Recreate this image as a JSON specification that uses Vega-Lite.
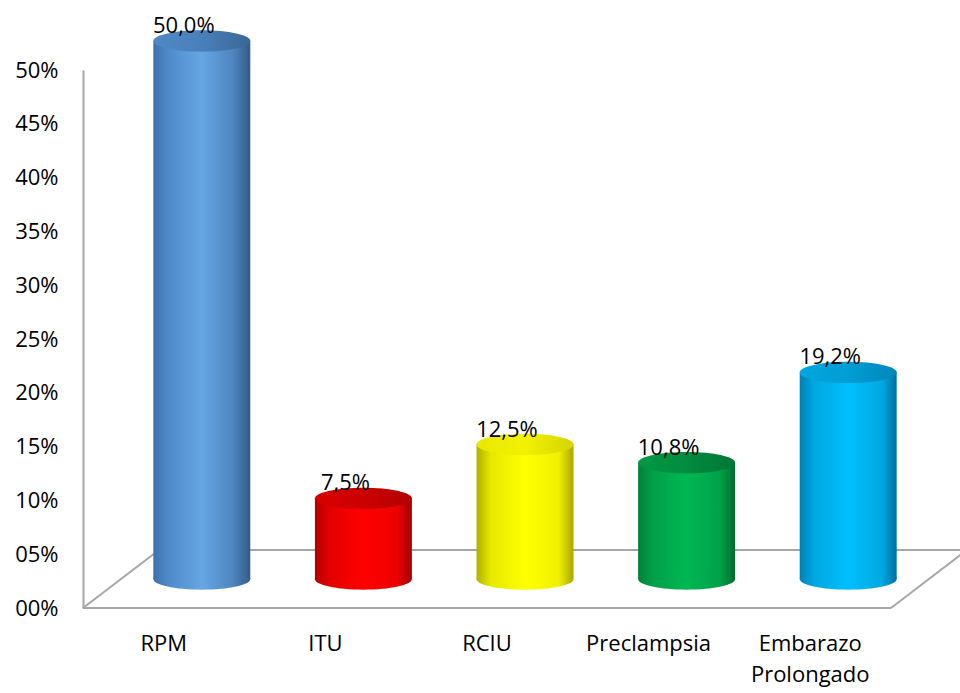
{
  "$schema": "https://vega.github.io/schema/vega-lite/v6.json",
  "width": 808,
  "height": 538,
  "autosize": "none",
  "padding": {"left": 83, "top": 70, "right": 69, "bottom": 85},
  "background": "white",
  "config": {
    "view": {"stroke": null},
    "font": "Open Sans",
    "locale": {"number": {"decimal": ",", "thousands": ".", "grouping": [3], "currency": ["", " €"]}}
  },
  "data": {"values": [
    {"cat": "RPM", "value": 0.5},
    {"cat": "ITU", "value": 0.075},
    {"cat": "RCIU", "value": 0.125},
    {"cat": "Preclampsia", "value": 0.108},
    {"cat": "Embarazo Prolongado", "value": 0.192}
  ]},
  "resolve": {"scale": {"x": "independent"}},
  "layer": [
    {
      "data": {"values": [{}]},
      "layer": [
        {
          "mark": {"type": "rule", "color": "#A6A6A6", "strokeWidth": 2},
          "encoding": {
            "x": {"datum": 0, "type": "quantitative", "scale": {"domain": [0, 1], "nice": false, "zero": false}, "axis": null},
            "x2": {"datum": 1},
            "y": {"datum": 0, "type": "quantitative"}
          }
        },
        {
          "mark": {"type": "rule", "color": "#A6A6A6", "strokeWidth": 2, "xOffset": 76, "x2Offset": 76, "yOffset": -58},
          "encoding": {
            "x": {"datum": 0, "type": "quantitative", "scale": {"domain": [0, 1], "nice": false, "zero": false}, "axis": null},
            "x2": {"datum": 1},
            "y": {"datum": 0, "type": "quantitative"}
          }
        },
        {
          "mark": {"type": "rule", "color": "#A6A6A6", "strokeWidth": 2, "x2Offset": 76, "y2Offset": -58},
          "encoding": {
            "x": {"datum": 0, "type": "quantitative", "scale": {"domain": [0, 1], "nice": false, "zero": false}, "axis": null},
            "x2": {"datum": 0},
            "y": {"datum": 0, "type": "quantitative"},
            "y2": {"datum": 0}
          }
        },
        {
          "mark": {"type": "rule", "color": "#A6A6A6", "strokeWidth": 2, "x2Offset": 76, "y2Offset": -58},
          "encoding": {
            "x": {"datum": 1, "type": "quantitative", "scale": {"domain": [0, 1], "nice": false, "zero": false}, "axis": null},
            "x2": {"datum": 1},
            "y": {"datum": 0, "type": "quantitative"},
            "y2": {"datum": 0}
          }
        }
      ]
    },
    {
      "encoding": {
        "x": {
          "field": "cat", "type": "nominal", "sort": null,
          "scale": {"paddingInner": 0, "paddingOuter": 0},
          "axis": {
            "title": null, "domain": false, "ticks": false, "labelAngle": 0,
            "labelFontSize": 22, "labelColor": "black", "labelPadding": 25,
            "labelLineHeight": 31, "labelFont": "Open Sans",
            "labelExpr": "datum.label == 'Embarazo Prolongado' ? ['Embarazo', 'Prolongado'] : datum.label"
          }
        },
        "y": {
          "field": "value", "type": "quantitative",
          "scale": {"domain": [0, 0.5], "nice": false},
          "axis": {
            "title": null, "format": "03.0%",
            "values": [0, 0.05, 0.1, 0.15, 0.2, 0.25, 0.3, 0.35, 0.4, 0.45, 0.5],
            "domainColor": "#A6A6A6", "domainWidth": 2, "ticks": false, "grid": false,
            "labelFontSize": 22, "labelColor": "black", "labelPadding": 25, "labelFont": "Open Sans"
          }
        }
      },
      "layer": [
        {
          "mark": {
            "type": "point", "filled": true, "opacity": 1, "strokeWidth": 0,
            "shape": "M-1,0A1,0.22,0,1,0,1,0A1,0.22,0,1,0,-1,0Z",
            "size": 9409, "xOffset": 38, "yOffset": -29
          },
          "encoding": {
            "y": {"datum": 0},
            "fill": {
              "condition": [
                {"test": "datum.cat === 'RPM'", "value": {"gradient": "linear", "x1": 0, "y1": 0, "x2": 1, "y2": 0, "stops": [{"offset": 0, "color": "#3C70AA"}, {"offset": 0.15, "color": "#4F8ACB"}, {"offset": 0.5, "color": "#65A6E3"}, {"offset": 0.82, "color": "#4F86C0"}, {"offset": 1, "color": "#325B85"}]}},
                {"test": "datum.cat === 'ITU'", "value": {"gradient": "linear", "x1": 0, "y1": 0, "x2": 1, "y2": 0, "stops": [{"offset": 0, "color": "#B00000"}, {"offset": 0.15, "color": "#E40000"}, {"offset": 0.5, "color": "#FF0000"}, {"offset": 0.85, "color": "#EE0000"}, {"offset": 1, "color": "#A00000"}]}},
                {"test": "datum.cat === 'RCIU'", "value": {"gradient": "linear", "x1": 0, "y1": 0, "x2": 1, "y2": 0, "stops": [{"offset": 0, "color": "#B0B000"}, {"offset": 0.15, "color": "#E8E800"}, {"offset": 0.5, "color": "#FFFF00"}, {"offset": 0.85, "color": "#F0F000"}, {"offset": 1, "color": "#A8A800"}]}},
                {"test": "datum.cat === 'Preclampsia'", "value": {"gradient": "linear", "x1": 0, "y1": 0, "x2": 1, "y2": 0, "stops": [{"offset": 0, "color": "#00803A"}, {"offset": 0.15, "color": "#00A048"}, {"offset": 0.5, "color": "#00B853"}, {"offset": 0.85, "color": "#00A048"}, {"offset": 1, "color": "#006B2F"}]}}
              ],
              "value": {"gradient": "linear", "x1": 0, "y1": 0, "x2": 1, "y2": 0, "stops": [{"offset": 0, "color": "#0080B8"}, {"offset": 0.15, "color": "#00A8E0"}, {"offset": 0.5, "color": "#00BFFF"}, {"offset": 0.85, "color": "#00A8E0"}, {"offset": 1, "color": "#0070A0"}]}
            }
          }
        },
        {
          "mark": {"type": "bar", "width": {"band": 0.6}, "xOffset": 38, "yOffset": -29, "y2Offset": -29},
          "encoding": {
            "y2": {"datum": 0},
            "fill": {
              "condition": [
                {"test": "datum.cat === 'RPM'", "value": {"gradient": "linear", "x1": 0, "y1": 0, "x2": 1, "y2": 0, "stops": [{"offset": 0, "color": "#3C70AA"}, {"offset": 0.15, "color": "#4F8ACB"}, {"offset": 0.5, "color": "#65A6E3"}, {"offset": 0.82, "color": "#4F86C0"}, {"offset": 1, "color": "#325B85"}]}},
                {"test": "datum.cat === 'ITU'", "value": {"gradient": "linear", "x1": 0, "y1": 0, "x2": 1, "y2": 0, "stops": [{"offset": 0, "color": "#B00000"}, {"offset": 0.15, "color": "#E40000"}, {"offset": 0.5, "color": "#FF0000"}, {"offset": 0.85, "color": "#EE0000"}, {"offset": 1, "color": "#A00000"}]}},
                {"test": "datum.cat === 'RCIU'", "value": {"gradient": "linear", "x1": 0, "y1": 0, "x2": 1, "y2": 0, "stops": [{"offset": 0, "color": "#B0B000"}, {"offset": 0.15, "color": "#E8E800"}, {"offset": 0.5, "color": "#FFFF00"}, {"offset": 0.85, "color": "#F0F000"}, {"offset": 1, "color": "#A8A800"}]}},
                {"test": "datum.cat === 'Preclampsia'", "value": {"gradient": "linear", "x1": 0, "y1": 0, "x2": 1, "y2": 0, "stops": [{"offset": 0, "color": "#00803A"}, {"offset": 0.15, "color": "#00A048"}, {"offset": 0.5, "color": "#00B853"}, {"offset": 0.85, "color": "#00A048"}, {"offset": 1, "color": "#006B2F"}]}}
              ],
              "value": {"gradient": "linear", "x1": 0, "y1": 0, "x2": 1, "y2": 0, "stops": [{"offset": 0, "color": "#0080B8"}, {"offset": 0.15, "color": "#00A8E0"}, {"offset": 0.5, "color": "#00BFFF"}, {"offset": 0.85, "color": "#00A8E0"}, {"offset": 1, "color": "#0070A0"}]}
            }
          }
        },
        {
          "mark": {
            "type": "point", "filled": true, "opacity": 1, "strokeWidth": 0,
            "shape": "M-1,0A1,0.22,0,1,0,1,0A1,0.22,0,1,0,-1,0Z",
            "size": 9409, "xOffset": 38, "yOffset": -29
          },
          "encoding": {
            "fill": {
              "condition": [
                {"test": "datum.cat === 'RPM'", "value": {"gradient": "linear", "x1": 0, "y1": 0, "x2": 1, "y2": 0, "stops": [{"offset": 0, "color": "#5089C6"}, {"offset": 0.5, "color": "#4A80BA"}, {"offset": 1, "color": "#3A6796"}]}},
                {"test": "datum.cat === 'ITU'", "value": {"gradient": "linear", "x1": 0, "y1": 0, "x2": 1, "y2": 0, "stops": [{"offset": 0, "color": "#D80000"}, {"offset": 0.5, "color": "#CC0000"}, {"offset": 1, "color": "#B40000"}]}},
                {"test": "datum.cat === 'RCIU'", "value": {"gradient": "linear", "x1": 0, "y1": 0, "x2": 1, "y2": 0, "stops": [{"offset": 0, "color": "#E8E800"}, {"offset": 0.5, "color": "#F2F200"}, {"offset": 1, "color": "#D4D400"}]}},
                {"test": "datum.cat === 'Preclampsia'", "value": {"gradient": "linear", "x1": 0, "y1": 0, "x2": 1, "y2": 0, "stops": [{"offset": 0, "color": "#009844"}, {"offset": 0.5, "color": "#008C3F"}, {"offset": 1, "color": "#007636"}]}}
              ],
              "value": {"gradient": "linear", "x1": 0, "y1": 0, "x2": 1, "y2": 0, "stops": [{"offset": 0, "color": "#00A6DE"}, {"offset": 0.5, "color": "#009ED4"}, {"offset": 1, "color": "#0086B8"}]}
            }
          }
        },
        {
          "mark": {"type": "text", "xOffset": 20, "yOffset": -44, "fontSize": 22, "align": "center", "baseline": "middle", "color": "black", "font": "Open Sans"},
          "encoding": {
            "text": {"field": "value", "type": "quantitative", "format": ".1%"}
          }
        }
      ]
    }
  ]
}
